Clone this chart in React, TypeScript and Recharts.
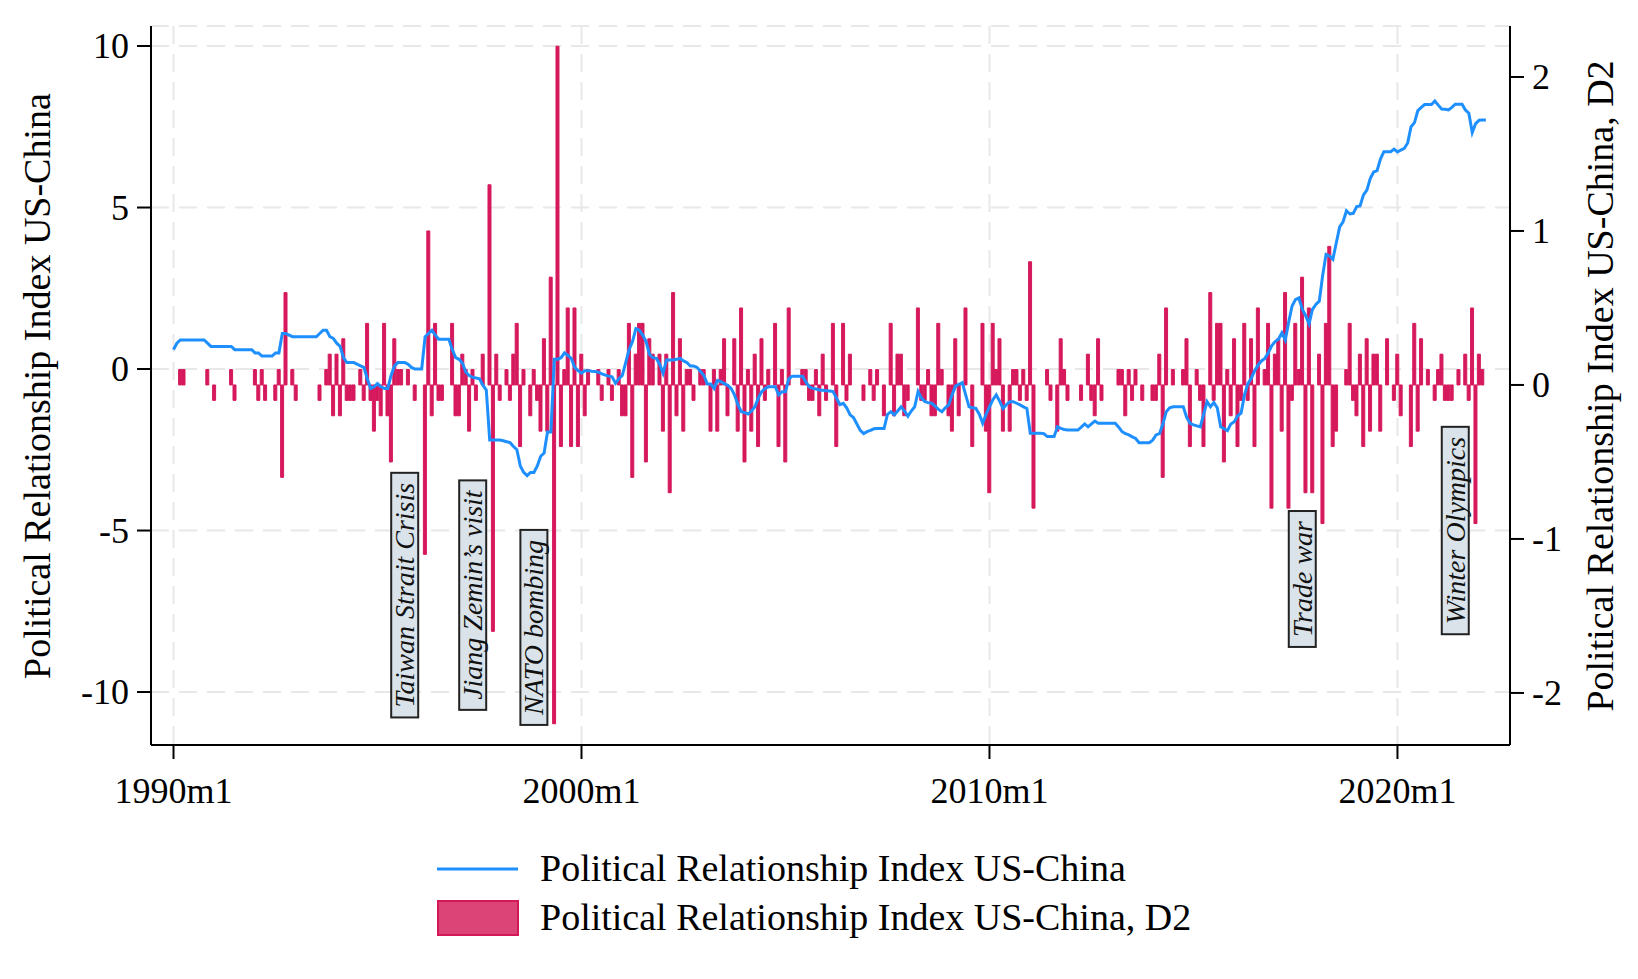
import React from 'react';
import { ComposedChart, Line, Bar, XAxis, YAxis, CartesianGrid, ReferenceDot } from 'recharts';

const W = 1638;
const H = 979;
const FONT = "'Liberation Serif', 'Times New Roman', serif";
const LINE_COLOR = '#1e8fff';
const BAR_COLOR = '#d6195c';

// x is months since 1990m1
const xTicks = [0, 120, 240, 360];
const xTickLabels = ['1990m1', '2000m1', '2010m1', '2020m1'];
const leftTicks = [10, 5, 0, -5, -10];
const rightTicks = [2, 1, 0, -1, -2];

// Political Relationship Index US-China, monthly from 1990m1
const lineIndex = [
  0.6, 0.8, 0.9, 0.9, 0.9, 0.9, 0.9, 0.9, 0.9, 0.9, 0.8, 0.7, // 1990
  0.7, 0.7, 0.7, 0.7, 0.7, 0.7, 0.6, 0.6, 0.6, 0.6, 0.6, 0.6, // 1991
  0.5, 0.5, 0.4, 0.4, 0.4, 0.4, 0.5, 0.5, 1.1, 1.1, 1.05, 1.0, // 1992
  1.0, 1.0, 1.0, 1.0, 1.0, 1.0, 1.0, 1.1, 1.2, 1.2, 1.0, 0.95, // 1993
  0.8, 0.7, 0.35, 0.2, 0.2, 0.2, 0.15, 0.1, 0.05, -0.3, -0.6, -0.55, // 1994
  -0.45, -0.55, -0.6, -0.6, -0.2, 0.1, 0.2, 0.2, 0.2, 0.15, 0.05, 0.0, // 1995
  0.0, 0.0, 1.0, 1.1, 1.2, 1.05, 0.92, 0.92, 0.92, 0.92, 0.6, 0.35, // 1996
  0.3, 0.18, -0.1, -0.2, -0.26, -0.28, -0.3, -0.5, -0.65, -2.2, -2.2, -2.2, // 1997
  -2.2, -2.22, -2.25, -2.28, -2.4, -2.5, -3.0, -3.2, -3.3, -3.2, -3.2, -3.0, // 1998
  -2.7, -2.6, -1.95, -1.95, 0.3, 0.3, 0.35, 0.5, 0.42, 0.33, 0.05, -0.05, // 1999
  -0.13, -0.05, -0.05, -0.07, -0.08, -0.1, -0.15, -0.19, -0.22, -0.24, -0.44, -0.3, // 2000
  -0.2, 0.2, 0.6, 0.85, 1.25, 1.2, 1.05, 0.85, 0.45, 0.35, 0.33, 0.15, // 2001
  -0.13, 0.28, 0.28, 0.28, 0.3, 0.33, 0.25, 0.2, 0.09, 0.09, 0.05, -0.08, // 2002
  -0.2, -0.46, -0.46, -0.6, -0.35, -0.39, -0.45, -0.5, -0.6, -0.8, -1.1, -1.32, // 2003
  -1.35, -1.39, -1.3, -1.17, -0.9, -0.7, -0.6, -0.55, -0.55, -0.55, -0.8, -0.7, // 2004
  -0.7, -0.3, -0.22, -0.22, -0.22, -0.22, -0.4, -0.55, -0.6, -0.62, -0.65, -0.66, // 2005
  -0.67, -0.68, -0.7, -0.9, -1.1, -1.06, -1.2, -1.42, -1.5, -1.7, -1.9, -2.0, // 2006
  -1.94, -1.9, -1.85, -1.84, -1.84, -1.84, -1.4, -1.32, -1.42, -1.3, -1.17, -1.3, // 2007
  -1.46, -1.3, -1.17, -0.7, -0.9, -1.01, -1.04, -1.06, -1.15, -1.25, -1.32, -1.2, // 2008
  -1.11, -0.8, -0.53, -0.47, -0.42, -0.8, -1.17, -1.2, -1.22, -1.4, -1.68, -1.4, // 2009
  -1.17, -0.95, -0.8, -1.0, -1.22, -1.1, -1.01, -1.01, -1.06, -1.11, -1.17, -1.22, // 2010
  -1.99, -1.99, -1.99, -1.99, -2.0, -2.09, -2.09, -2.09, -1.79, -1.84, -1.87, -1.89, // 2011
  -1.89, -1.89, -1.89, -1.8, -1.7, -1.79, -1.7, -1.61, -1.68, -1.68, -1.68, -1.68, // 2012
  -1.68, -1.68, -1.8, -1.94, -2.0, -2.04, -2.1, -2.15, -2.28, -2.28, -2.28, -2.28, // 2013
  -2.2, -2.04, -2.0, -1.7, -1.32, -1.2, -1.17, -1.17, -1.17, -1.17, -1.5, -1.68, // 2014
  -1.73, -1.76, -1.79, -1.4, -1.01, -1.17, -1.04, -1.2, -1.79, -1.85, -1.91, -1.7, // 2015
  -1.63, -1.45, -1.37, -0.8, -0.45, -0.29, -0.05, 0.12, 0.25, 0.33, 0.5, 0.72, // 2016
  0.85, 0.92, 1.12, 0.9, 1.45, 1.95, 2.15, 2.2, 1.85, 1.65, 1.4, 1.85, // 2017
  2.0, 2.1, 2.9, 3.55, 3.5, 3.4, 3.9, 4.4, 4.56, 4.9, 4.8, 4.82, // 2018
  5.03, 5.05, 5.39, 5.54, 5.9, 6.1, 6.14, 6.5, 6.73, 6.73, 6.73, 6.81, // 2019
  6.72, 6.78, 6.83, 7.0, 7.5, 7.63, 8.0, 8.1, 8.19, 8.19, 8.19, 8.3, // 2020
  8.17, 8.05, 8.04, 8.02, 8.1, 8.2, 8.2, 8.2, 8.02, 7.92, 7.32, 7.6, // 2021
  7.7, 7.71, 7.71, // 2022
];

// Political Relationship Index US-China, D2
const barD2 = [
  0, 0, 0.1, 0.1, 0, 0, 0, 0, 0, 0, 0.1, 0, // 1990
  -0.1, 0, 0, 0, 0, 0.1, -0.1, 0, 0, 0, 0, 0, // 1991
  0.1, -0.1, 0.1, -0.1, 0, 0, -0.1, 0.1, -0.6, 0.6, 0, 0.1, // 1992
  -0.1, 0, 0, 0, 0, 0, 0, -0.1, 0, 0.1, 0.2, -0.2, // 1993
  0.2, -0.2, 0.3, -0.1, -0.1, -0.1, 0, 0.1, -0.1, 0.4, -0.1, -0.3, // 1994
  -0.1, -0.2, 0.4, -0.2, -0.5, 0.3, 0.1, 0.1, 0, 0.1, 0, -0.1, // 1995
  0, 0, -1.1, 1.0, -0.2, 0.4, -0.1, -0.1, 0, 0, 0.4, -0.2, // 1996
  -0.2, 0.2, 0.1, -0.3, 0.1, -0.1, 0, 0.2, 0, 1.3, -1.6, 0.2, // 1997
  -0.1, 0, 0.1, -0.1, 0.2, 0.4, -0.4, 0.1, 0, -0.2, 0.1, -0.1, // 1998
  -0.3, 0.3, -0.3, 0.7, -2.2, 2.2, -0.4, 0.1, 0.5, -0.4, 0.5, -0.4, // 1999
  0.2, -0.2, 0.1, 0, 0, 0.1, -0.1, 0, 0.1, -0.1, 0, 0.1, // 2000
  -0.2, -0.2, 0.4, -0.6, 0.2, 0.4, 0.4, -0.5, 0.3, 0.2, 0, 0.2, // 2001
  -0.3, 0.2, -0.7, 0.6, -0.2, 0.3, -0.3, 0.1, 0.1, -0.1, 0, 0.1, // 2002
  0.1, 0, -0.3, 0.1, -0.3, 0.1, 0.3, -0.2, 0, 0.3, -0.3, 0.5, // 2003
  -0.5, 0.1, -0.3, 0.2, -0.4, 0.3, -0.1, 0.1, 0, 0.4, -0.4, 0.1, // 2004
  -0.5, 0.5, 0, 0, 0, 0.1, 0.1, -0.1, -0.1, 0.1, -0.2, 0.2, // 2005
  -0.1, 0, 0.4, -0.4, 0, 0.4, -0.1, 0.2, 0, 0, 0, -0.1, // 2006
  0, 0.1, -0.1, 0.1, 0, -0.2, 0, 0.4, -0.2, 0.2, 0.2, -0.2, // 2007
  -0.1, 0, 0, 0.5, -0.1, -0.1, 0.1, -0.2, -0.2, 0.4, 0.1, 0, // 2008
  -0.2, -0.3, 0.3, -0.2, 0, 0.5, 0, -0.4, 0, 0, 0.4, -0.3, // 2009
  -0.7, 0.4, 0.1, 0.3, -0.3, 0, -0.3, 0.1, 0.1, -0.1, 0.1, -0.1, // 2010
  0.8, -0.8, 0, 0, 0, 0.1, -0.1, 0, -0.3, 0.3, 0.1, -0.1, // 2011
  0, 0, 0, -0.1, 0, 0.2, -0.1, -0.2, 0.3, -0.1, 0, 0, // 2012
  0, 0, 0.1, 0.1, -0.2, 0.1, -0.1, 0.1, 0, -0.1, 0, 0, // 2013
  -0.1, -0.1, 0.2, -0.6, 0.5, 0, 0.1, 0, 0, 0.1, 0.3, -0.4, // 2014
  0, 0.1, -0.1, -0.4, 0, 0.6, -0.1, 0.4, 0.4, -0.5, 0.1, -0.2, // 2015
  0.3, -0.4, -0.1, 0.4, -0.1, 0.3, -0.4, 0.5, 0, 0.1, 0.4, -0.8, // 2016
  0.2, 0.3, -0.3, 0.6, -0.8, -0.1, 0.4, 0.1, 0.7, -0.7, 0.5, -0.7, // 2017
  0, 0.2, -0.9, 0.4, 0.9, -0.4, -0.3, 0, 0, 0.1, 0.4, -0.1, // 2018
  -0.2, 0.2, -0.4, 0.3, -0.3, 0.2, 0.2, -0.3, 0, 0.3, 0, -0.1, // 2019
  0.2, -0.2, 0, 0, -0.4, 0.4, -0.3, 0.3, 0, 0.1, 0, -0.1, // 2020
  0.1, 0.2, -0.1, -0.1, -0.1, 0, 0.1, 0, 0.2, -0.1, 0.5, -0.9, // 2021
  0.2, 0.1, 0, // 2022
];

// event labels: month since 1990m1 and left-axis level of the label centre
const eventLabels = ['Taiwan Strait Crisis', 'Jiang Zemin\u2019s visit', 'NATO bombing', 'Trade war', 'Winter Olympics'];
const eventMonths = [68, 88, 106, 332, 377];
const eventLevels = [-7, -7, -8, -6.5, -5];

const data = lineIndex.map((v, i) => ({ t: i, index: v, d2: barD2[i] }));

let measureCtx: CanvasRenderingContext2D | null = null;
const textWidth = (s: string, font: string) => {
  if (!measureCtx) measureCtx = document.createElement('canvas').getContext('2d');
  if (!measureCtx) return s.length * 13;
  measureCtx.font = font;
  return measureCtx.measureText(s).width;
};

const XTick = (p: any) => {
  const i = xTicks.indexOf(p.payload.value);
  return (
    <text x={p.x} y={p.y + 44} textAnchor="middle" fontSize={36} fontFamily={FONT} fill="#000">
      {i >= 0 ? xTickLabels[i] : p.payload.value}
    </text>
  );
};

const LeftTick = (p: any) => (
  <text x={p.x - 8} y={p.y + 12} textAnchor="end" fontSize={36} fontFamily={FONT} fill="#000">
    {p.payload.value}
  </text>
);

const RightTick = (p: any) => (
  <text x={p.x + 8} y={p.y + 12} textAnchor="start" fontSize={36} fontFamily={FONT} fill="#000">
    {p.payload.value}
  </text>
);

const EventBox = ({ cx, cy, label }: { cx: number; cy: number; label: string }) => {
  const len = textWidth(label, `italic 28px ${FONT}`) + 20;
  return (
    <g transform={`translate(${cx},${cy}) rotate(-90)`}>
      <rect x={-len / 2} y={-13.5} width={len} height={27} fill="#d9e3e9" stroke="#222" strokeWidth={2} />
      <text x={0} y={0} dy="0.33em" textAnchor="middle" fontStyle="italic" fontSize={28} fontFamily={FONT} fill="#111">
        {label}
      </text>
    </g>
  );
};

export default function App() {
  return (
    <div style={{ position: 'absolute', left: 0, top: 0, width: W, height: H, background: '#fff' }}>
      <ComposedChart width={W} height={H} data={data} margin={{ top: 26, right: 0, bottom: 0, left: 0 }}>
        <CartesianGrid yAxisId="left" stroke="#e8e8e8" strokeWidth={2} strokeDasharray="18 10" />
        <XAxis
          dataKey="t"
          type="number"
          domain={[-6.62, 393.1]}
          allowDataOverflow
          ticks={xTicks}
          interval={0}
          height={234}
          tick={<XTick />}
          tickSize={14}
          tickMargin={0}
          axisLine={{ stroke: '#000', strokeWidth: 2 }}
          tickLine={{ stroke: '#000', strokeWidth: 2 }}
        />
        <YAxis
          yAxisId="left"
          orientation="left"
          width={151}
          domain={[-11.64, 10.62]}
          allowDataOverflow
          ticks={leftTicks}
          interval={0}
          tick={<LeftTick />}
          tickSize={14}
          tickMargin={0}
          axisLine={{ stroke: '#000', strokeWidth: 2 }}
          tickLine={{ stroke: '#000', strokeWidth: 2 }}
        />
        <YAxis
          yAxisId="right"
          orientation="right"
          width={128}
          domain={[-2.338, 2.331]}
          allowDataOverflow
          ticks={rightTicks}
          interval={0}
          tick={<RightTick />}
          tickSize={14}
          tickMargin={0}
          axisLine={{ stroke: '#000', strokeWidth: 2 }}
          tickLine={{ stroke: '#000', strokeWidth: 2 }}
        />
        <Line
          yAxisId="left"
          type="linear"
          dataKey="index"
          stroke={LINE_COLOR}
          strokeWidth={3}
          dot={false}
          activeDot={false}
          isAnimationActive={false}
        />
        <Bar
          yAxisId="right"
          dataKey="d2"
          fill={BAR_COLOR}
          stroke={BAR_COLOR}
          strokeWidth={1}
          barSize={3}
          isAnimationActive={false}
        />
        {eventLabels.map((label, i) => (
          <ReferenceDot
            key={label}
            yAxisId="left"
            x={eventMonths[i]}
            y={eventLevels[i]}
            r={1}
            ifOverflow="visible"
            shape={(p: any) => <EventBox cx={p.cx} cy={p.cy} label={label} />}
          />
        ))}
      </ComposedChart>
      <svg width={W} height={H} style={{ position: 'absolute', left: 0, top: 0, pointerEvents: 'none' }}>
        <text
          transform="translate(37,386) rotate(-90)"
          textAnchor="middle"
          dominantBaseline="central"
          fontSize={38}
          fontFamily={FONT}
          fill="#000"
        >
          Political Relationship Index US-China
        </text>
        <text
          transform="translate(1600,386) rotate(-90)"
          textAnchor="middle"
          dominantBaseline="central"
          fontSize={38}
          fontFamily={FONT}
          fill="#000"
        >
          Political Relationship Index US-China, D2
        </text>
        <line x1={437} x2={518} y1={869} y2={869} stroke={LINE_COLOR} strokeWidth={3} />
        <text x={540} y={881} fontSize={38} fontFamily={FONT} fill="#000">
          Political Relationship Index US-China
        </text>
        <rect x={438} y={901} width={80} height={34} fill="#dc4478" stroke="#d3185a" strokeWidth={2} />
        <text x={540} y={930} fontSize={38} fontFamily={FONT} fill="#000">
          Political Relationship Index US-China, D2
        </text>
      </svg>
    </div>
  );
}
